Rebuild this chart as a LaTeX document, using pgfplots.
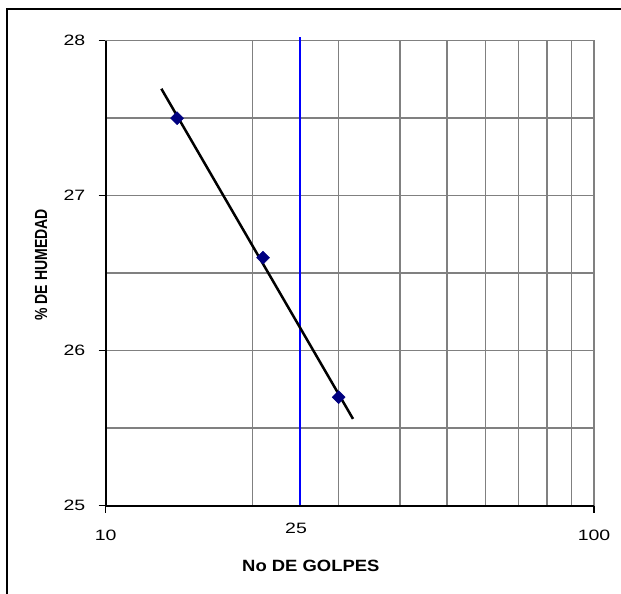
\documentclass[border=0pt]{standalone}
\usepackage{fontspec}
\setmainfont{Liberation Sans}
\newfontfamily\tickfont{Liberation Sans}[FakeStretch=1.3]
\newfontfamily\xlabfont{Liberation Sans}[FakeStretch=1.13]
\newfontfamily\ylabfont{Liberation Sans}[FakeStretch=0.8]
\usepackage{pgfplots}
\pgfplotsset{compat=1.18}
\definecolor{navymark}{RGB}{0,0,128}
\definecolor{gridgray}{RGB}{128,128,128}
\begin{document}
\begin{tikzpicture}[x=1bp,y=1bp]
\useasboundingbox (0,0) rectangle (621,594);
\draw[line width=1.8bp] (7,-10) -- (7,585) -- (640,585);
\begin{axis}[
  at={(105.7bp,88.3bp)}, anchor=south west,
  scale only axis, width=488.3bp, height=465bp,
  xmode=log, xmin=10, xmax=100, ymin=25, ymax=28,
  clip=false,
  xtick={10,100}, xticklabels={10,100},
  extra x ticks={25}, extra x tick labels={25},
  extra x tick style={major tick length=0pt, xmajorgrids=false,
    xticklabel style={xshift=-4bp}},
  minor xtick={20,30,40,50,60,70,80,90},
  ytick={25,26,27,28}, minor ytick={25.5,26.5,27.5},
  xmajorgrids, xminorgrids, ymajorgrids, yminorgrids,
  grid style={gridgray, line width=1.6bp},
  minor grid style={gridgray, line width=1.6bp},
  tick align=outside, tick pos=left,
  major tick length=7bp, minor tick length=0pt,
  major tick style={black, line width=1.5bp},
  axis line style={draw=gridgray, line width=1.6bp},
  /pgf/number format/assume math mode=true,
  ticklabel style={font=\tickfont\fontsize{15bp}{18bp}\selectfont},
  xticklabel shift=14bp,
  yticklabel shift=10bp,
  xlabel={No DE GOLPES},
  ylabel={\% DE HUMEDAD},
  xlabel style={at={(rel axis cs:0.42,-0.129)}, anchor=center,
    font=\xlabfont\fontsize{16.3bp}{20bp}\selectfont\bfseries},
  ylabel style={at={(rel axis cs:-0.1325,0.518)}, anchor=center,
    font=\ylabfont\fontsize{17.5bp}{20bp}\selectfont\bfseries},
]
\addplot[blue, line width=2bp] coordinates {(25,25) (25,28.024)};
\addplot[only marks, mark=square*, mark size=4.6bp,
  mark options={rotate=45, fill=navymark, draw=navymark}]
  coordinates {(14,27.5) (21,26.6) (30,25.7)};
\addplot[black, line width=2.5bp] coordinates {(13,27.69) (32.1,25.56)};
\draw[gridgray, line width=2.5bp] (rel axis cs:1,0) -- (rel axis cs:1,1);
\draw[black, line width=2bp] (rel axis cs:0,1) -- (rel axis cs:0,0) -- (rel axis cs:1,0);
\end{axis}
\end{tikzpicture}
\end{document}
